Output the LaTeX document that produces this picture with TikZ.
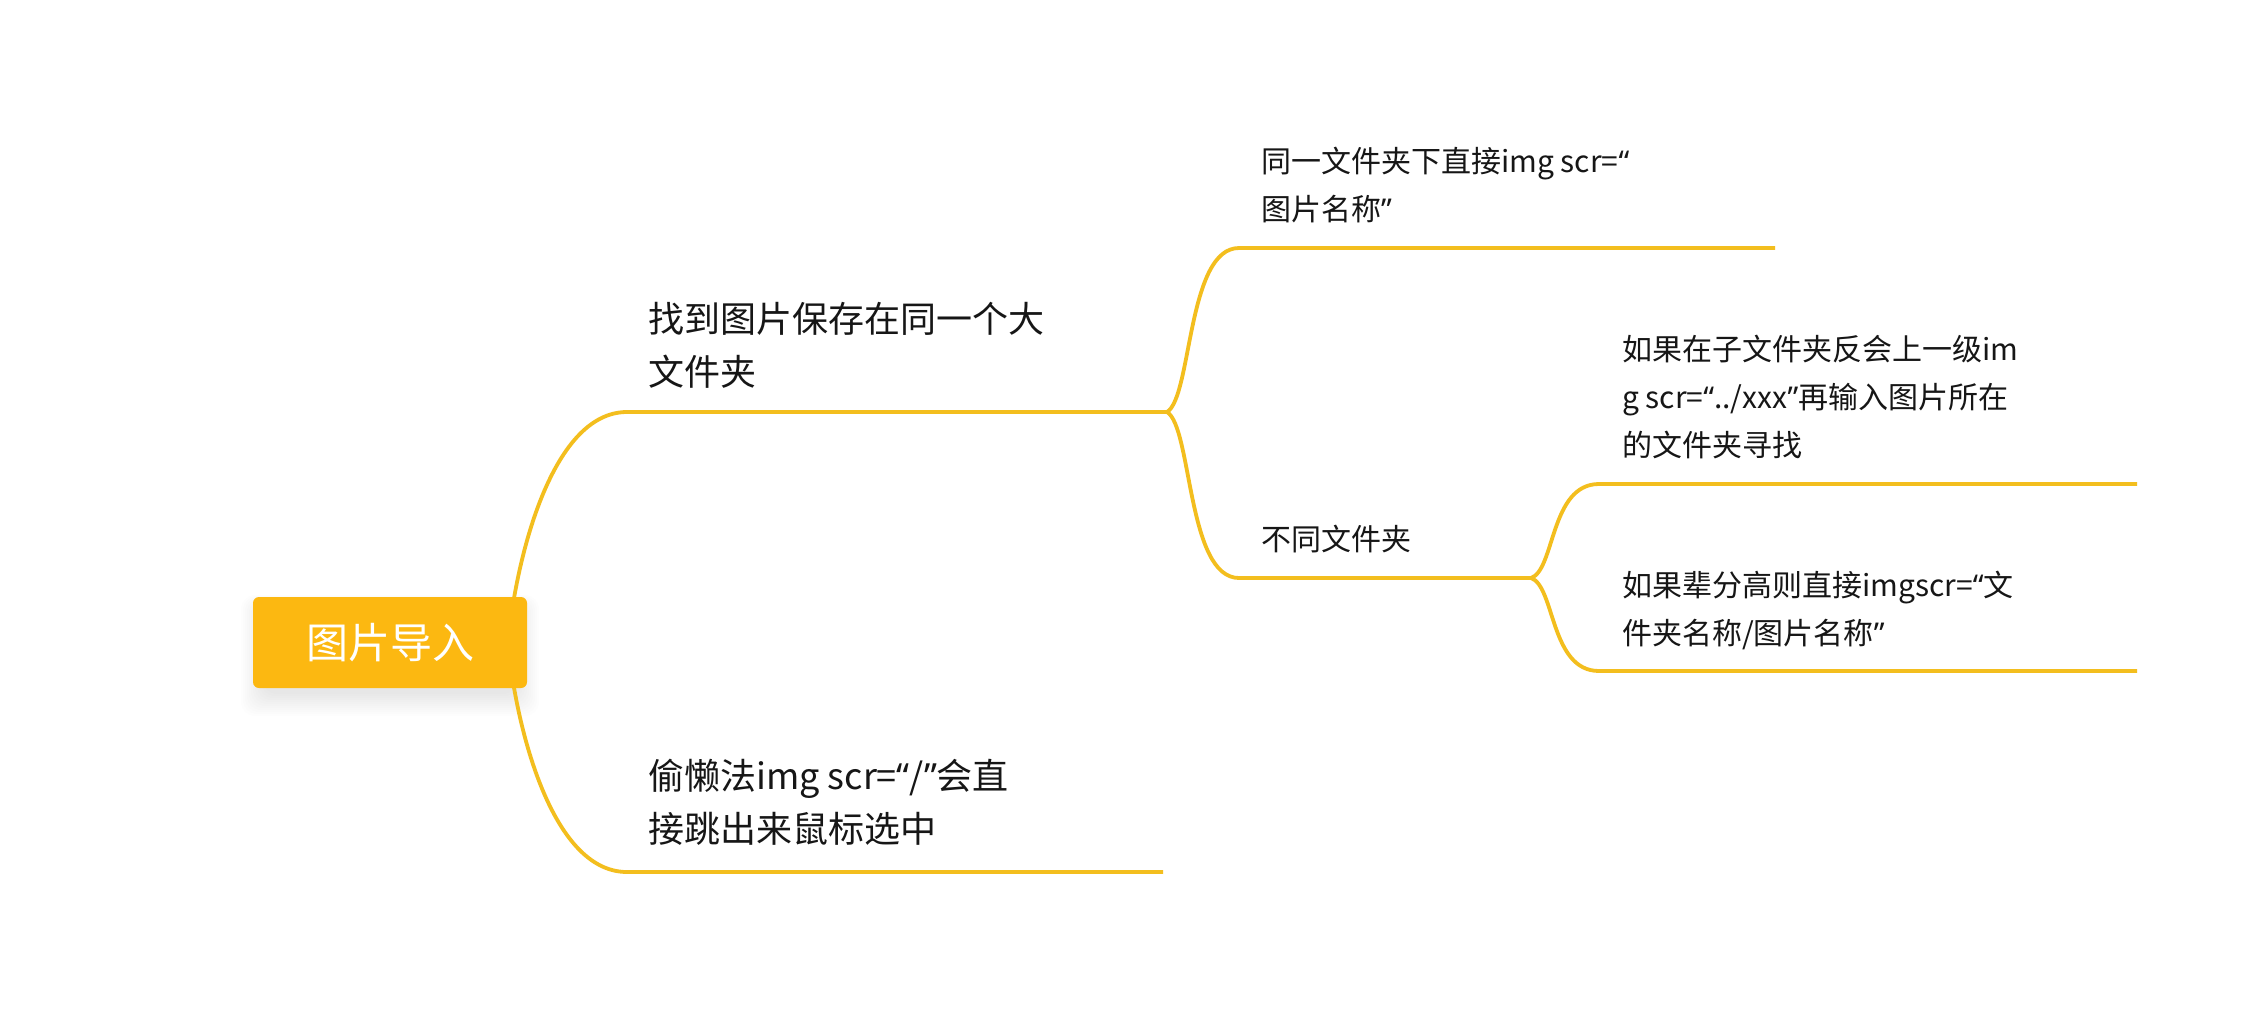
\documentclass[tikz,border=0pt]{standalone}
\usepackage{fontspec}
\newfontfamily\cjk{Noto Sans CJK SC}
\newfontfamily\latq{Noto Sans}
\newcommand\oq{{\latq “}}
\newcommand\cq{{\latq ”}}
\definecolor{branch}{RGB}{243,190,30}
\definecolor{rootfill}{RGB}{252,184,17}
\definecolor{txt}{RGB}{22,22,22}
\begin{document}
\begin{tikzpicture}[x=1pt,y=-1pt,
  conn/.style={draw=branch, line width=3.8pt},
  rootbox/.style={fill=rootfill, rounded corners=6pt, minimum width=274pt, minimum height=91pt, inner sep=0pt, text=white, font=\cjk\fontsize{42}{50}\selectfont},
  lvla/.style={anchor=base west, inner sep=0pt, align=left, text=txt, font=\cjk\fontsize{36}{53}\selectfont},
  lvlb/.style={anchor=base west, inner sep=0pt, align=left, text=txt, font=\cjk\fontsize{30}{48}\selectfont}]
\useasboundingbox[fill=white] (0,0) rectangle (2259,1028);

% shadow of the root
\foreach \k in {0,...,11}{
  \fill[black, opacity=0.009, rounded corners=14pt] (263-2*\k, 606-\k) rectangle (517+2*\k, 694+2*\k);
}

% anchor points of the branches
\coordinate (rootout) at (508,643);
\coordinate (b1s) at (627,412);  \coordinate (b1e) at (1167,412);
\coordinate (b2s) at (627,872);  \coordinate (b2e) at (1163,872);
\coordinate (c1s) at (1239,248); \coordinate (c1e) at (1775,248);
\coordinate (c2s) at (1239,578); \coordinate (c2e) at (1531,578);
\coordinate (d1s) at (1599,484); \coordinate (d1e) at (2137,484);
\coordinate (d2s) at (1599,671); \coordinate (d2e) at (2137,671);

% connectors
\draw[conn] (rootout) .. controls (515,565) and (550,412) .. (b1s) -- (b1e);
\draw[conn] (rootout) .. controls (515,721) and (550,872) .. (b2s) -- (b2e);
\draw[conn] (b1e) .. controls (1192,397) and (1187,248) .. (c1s) -- (c1e);
\draw[conn] (b1e) .. controls (1192,427) and (1187,578) .. (c2s) -- (c2e);
\draw[conn] (c2e) .. controls (1555,570) and (1550,484) .. (d1s) -- (d1e);
\draw[conn] (c2e) .. controls (1555,586) and (1550,671) .. (d2s) -- (d2e);

% root
\node[rootbox] (root) at (390,642.5) {图片导入};

% texts (anchored at the baseline of the last line)
\node[lvla] (t1) at (648,385) {找到图片保存在同一个大\\文件夹};
\node[lvla] (t2) at (648,842) {偷懒法img scr=\oq/\cq 会直\\接跳出来鼠标选中};
\node[lvlb] (t3) at (1261,220) {同一文件夹下直接img scr=\oq\\图片名称\cq};
\node[lvlb] (t4) at (1261,550) {不同文件夹};
\node[lvlb] (t5) at (1622,456) {如果在子文件夹反会上一级im\\g scr=\oq../xxx\cq 再输入图片所在\\的文件夹寻找};
\node[lvlb] (t6) at (1622,644) {如果辈分高则直接imgscr=\oq 文\\件夹名称/图片名称\cq};
\end{tikzpicture}
\end{document}
